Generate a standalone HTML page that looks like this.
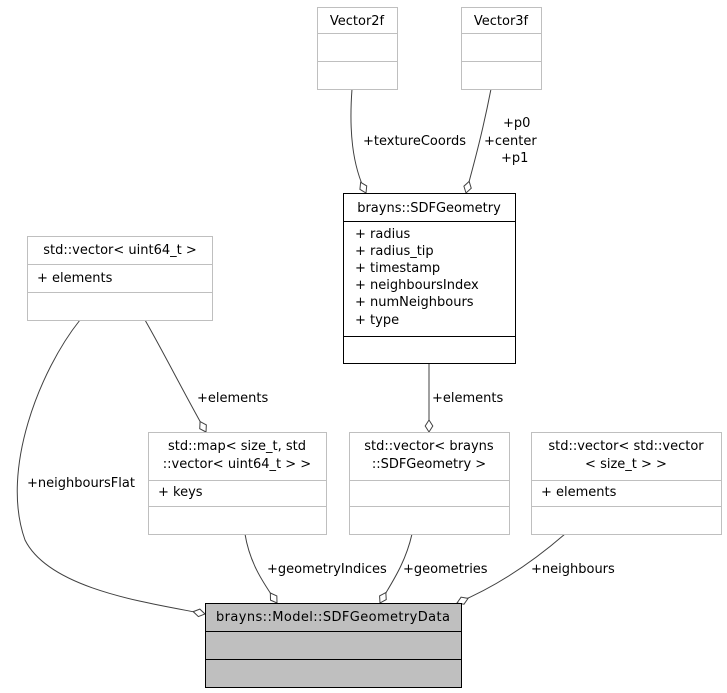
<!DOCTYPE html>
<html><head><meta charset="utf-8"><style>
html,body{margin:0;padding:0;background:#fff;}
svg{display:block;}
text{font-family:"DejaVu Sans",sans-serif;font-size:13px;fill:#000;}
</style></head><body>
<svg width="727" height="693" viewBox="0 0 727 693" xmlns="http://www.w3.org/2000/svg">
<defs>
<marker id="d" viewBox="-1 -5 14 10" refX="12" refY="0" markerWidth="14" markerHeight="10" markerUnits="userSpaceOnUse" orient="auto">
<path d="M0,0 L6,-3.8 L12,0 L6,3.8 Z" fill="#fff" stroke="#404040" stroke-width="1"/>
</marker>
</defs>
<g fill="none" stroke="#404040" stroke-width="1" marker-end="url(#d)">
<path d="M352,89 C349,130 352,165 366,193"/>
<path d="M491,89 C483,130 475,160 466,193"/>
<path d="M429,363 L429,432"/>
<path d="M145,320 C165,355 185,395 206,432"/>
<path d="M80,320 C40,370 0,470 25,540 C50,590 150,603 205,614"/>
<path d="M245,534 C250,565 265,585 277,603"/>
<path d="M412,534 C405,565 390,585 380,603"/>
<path d="M565,534 C535,560 500,585 457,603"/>
</g>
<g stroke="#bfbfbf" fill="#fff">
<rect x="317.5" y="7.5" width="80" height="82"/><line x1="317.5" y1="33.5" x2="397.5" y2="33.5"/><line x1="317.5" y1="61.5" x2="397.5" y2="61.5"/>
<rect x="461.5" y="7.5" width="80" height="82"/><line x1="461.5" y1="33.5" x2="541.5" y2="33.5"/><line x1="461.5" y1="61.5" x2="541.5" y2="61.5"/>
<rect x="27.5" y="236.5" width="185" height="84"/><line x1="27.5" y1="264.5" x2="212.5" y2="264.5"/><line x1="27.5" y1="292.5" x2="212.5" y2="292.5"/>
<rect x="148.5" y="432.5" width="178" height="102"/><line x1="148.5" y1="480.5" x2="326.5" y2="480.5"/><line x1="148.5" y1="506.5" x2="326.5" y2="506.5"/>
<rect x="349.5" y="432.5" width="160" height="102"/><line x1="349.5" y1="480.5" x2="509.5" y2="480.5"/><line x1="349.5" y1="506.5" x2="509.5" y2="506.5"/>
<rect x="531.5" y="432.5" width="190" height="102"/><line x1="531.5" y1="480.5" x2="721.5" y2="480.5"/><line x1="531.5" y1="506.5" x2="721.5" y2="506.5"/>
</g>
<g stroke="#000" fill="#fff">
<rect x="343.5" y="193.5" width="172" height="170"/><line x1="343.5" y1="221.5" x2="515.5" y2="221.5"/><line x1="343.5" y1="336.5" x2="515.5" y2="336.5"/>
</g>
<g stroke="#000" fill="#bfbfbf">
<rect x="205.5" y="603.5" width="256" height="84"/><line x1="205.5" y1="631.5" x2="461.5" y2="631.5"/><line x1="205.5" y1="659.5" x2="461.5" y2="659.5"/>
</g>
<text x="357" y="25" text-anchor="middle">Vector2f</text>
<text x="501" y="25" text-anchor="middle">Vector3f</text>
<text x="429" y="212" text-anchor="middle">brayns::SDFGeometry</text>
<text x="355" y="238">+ radius</text>
<text x="355" y="255">+ radius_tip</text>
<text x="355" y="272">+ timestamp</text>
<text x="355" y="289">+ neighboursIndex</text>
<text x="355" y="306">+ numNeighbours</text>
<text x="355" y="324">+ type</text>
<text x="120" y="254" text-anchor="middle">std::vector&lt; uint64_t &gt;</text>
<text x="37" y="282">+ elements</text>
<text x="237" y="450" text-anchor="middle">std::map&lt; size_t, std</text>
<text x="237" y="468" text-anchor="middle">::vector&lt; uint64_t &gt; &gt;</text>
<text x="158" y="496">+ keys</text>
<text x="429" y="450" text-anchor="middle">std::vector&lt; brayns</text>
<text x="429" y="468" text-anchor="middle">::SDFGeometry &gt;</text>
<text x="626" y="450" text-anchor="middle">std::vector&lt; std::vector</text>
<text x="626" y="468" text-anchor="middle">&lt; size_t &gt; &gt;</text>
<text x="541" y="496">+ elements</text>
<text x="333" y="621" text-anchor="middle" textLength="234" lengthAdjust="spacing">brayns::Model::SDFGeometryData</text>
<text x="363" y="145">+textureCoords</text>
<text x="503" y="127">+p0</text>
<text x="484" y="145">+center</text>
<text x="501" y="162">+p1</text>
<text x="432" y="402">+elements</text>
<text x="197" y="402">+elements</text>
<text x="27" y="487">+neighboursFlat</text>
<text x="267" y="573">+geometryIndices</text>
<text x="403" y="573">+geometries</text>
<text x="531" y="573">+neighbours</text>
</svg>
</body></html>
